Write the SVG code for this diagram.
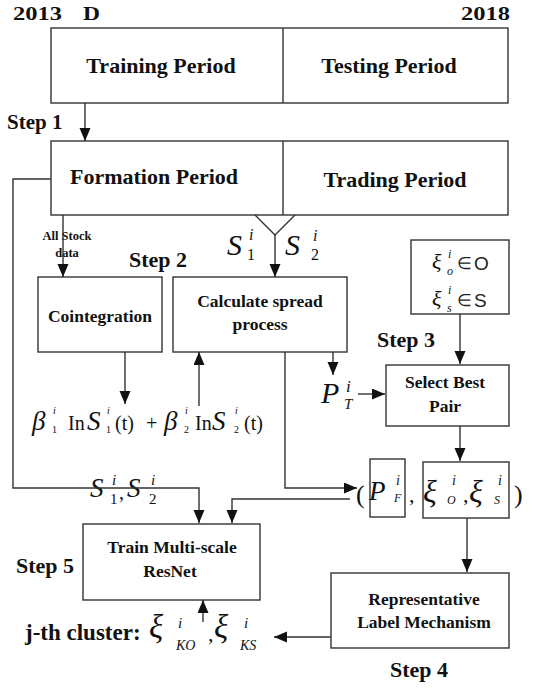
<svg xmlns="http://www.w3.org/2000/svg" width="534" height="689" viewBox="0 0 534 689">
  <style>
    .box { fill: #ffffff; stroke: #333333; stroke-width: 1.4; }
    .ln { fill: none; stroke: #333333; stroke-width: 1.4; }
    .arr { fill: none; stroke: #333333; stroke-width: 1.4; marker-end: url(#head); }
    .lbl { font-family: "Liberation Serif", "Times New Roman", serif; font-weight: bold; fill: #111111; }
    .big { font-size: 22px; }
    .year { font-size: 19px; }
    .node { font-size: 17.5px; text-anchor: middle; }
    .m { font-family: "Liberation Serif", "Times New Roman", serif; font-style: italic; fill: #111111; }
    .r { font-family: "Liberation Serif", "Times New Roman", serif; fill: #111111; }
    .sans { font-family: "Liberation Sans", Arial, sans-serif; fill: #222222; }
  </style>
  <defs>
    <marker id="head" markerUnits="userSpaceOnUse" markerWidth="14" markerHeight="12" refX="13" refY="5.5" orient="auto">
      <path d="M0,0 L13,5.5 L0,11 z" fill="#111111"/>
    </marker>
  </defs>

  <!-- timeline labels -->
  <g id="timeline">
    <text class="lbl year" x="13" y="20" textLength="49" lengthAdjust="spacingAndGlyphs">2013</text>
    <text class="lbl year" x="83" y="20" textLength="17" lengthAdjust="spacingAndGlyphs">D</text>
    <text class="lbl year" x="461" y="20" textLength="49" lengthAdjust="spacingAndGlyphs">2018</text>
  </g>

  <!-- whole period split -->
  <g id="period-split">
    <rect class="box" x="51" y="28" width="457" height="75"/>
    <line class="ln" x1="283" y1="28" x2="283" y2="103"/>
    <text class="lbl big" x="161" y="73" text-anchor="middle">Training Period</text>
    <text class="lbl big" x="389" y="73" text-anchor="middle">Testing Period</text>
  </g>

  <!-- formation / trading split -->
  <g id="formation-trading">
    <rect class="box" x="51" y="141" width="457" height="74"/>
    <line class="ln" x1="283" y1="141" x2="283" y2="215"/>
    <text class="lbl big" x="154" y="184" text-anchor="middle">Formation Period</text>
    <text class="lbl big" x="395" y="187" text-anchor="middle">Trading Period</text>
  </g>

  <!-- step labels -->
  <g id="steps">
    <text class="lbl" font-size="21" x="7" y="129">Step 1</text>
    <text class="lbl big" x="129" y="267">Step 2</text>
    <text class="lbl big" x="377" y="347">Step 3</text>
    <text class="lbl big" x="390" y="677">Step 4</text>
    <text class="lbl big" x="16" y="573">Step 5</text>
  </g>

  <g id="all-stock-label">
    <text class="lbl" font-size="12.5" x="67" y="240" text-anchor="middle">All Stock</text>
    <text class="lbl" font-size="12.5" x="67" y="257" text-anchor="middle">data</text>
  </g>

  <g id="cointegration">
    <rect class="box" x="38" y="277" width="124" height="75"/>
    <text class="lbl node" x="100" y="322">Cointegration</text>
  </g>

  <g id="spread">
    <rect class="box" x="173" y="277" width="174" height="75"/>
    <text class="lbl node" x="260" y="307">Calculate spread</text>
    <text class="lbl node" x="260" y="330">process</text>
  </g>

  <g id="threshold-sets">
    <rect class="box" x="411" y="240" width="98" height="74"/>
    <text class="m" font-size="22" x="432" y="269">ξ</text>
    <text class="m" font-size="12" x="448" y="258">i</text>
    <text class="m" font-size="12" x="447" y="275">o</text>
    <text class="sans" font-size="17" x="457" y="269">∈</text>
    <text class="sans" font-size="19" x="474" y="270">O</text>
    <text class="m" font-size="22" x="432" y="306">ξ</text>
    <text class="m" font-size="12" x="448" y="294">i</text>
    <text class="m" font-size="12" x="447" y="312">s</text>
    <text class="sans" font-size="17" x="457" y="306">∈</text>
    <text class="sans" font-size="19" x="474" y="307">S</text>
  </g>

  <g id="select-pair">
    <rect class="box" x="386" y="365" width="123" height="61"/>
    <text class="lbl node" x="445" y="388">Select Best</text>
    <text class="lbl node" x="445" y="412">Pair</text>
  </g>

  <g id="train-resnet">
    <rect class="box" x="83" y="524" width="177" height="76"/>
    <text class="lbl node" x="172" y="553">Train Multi-scale</text>
    <text class="lbl node" x="170" y="577">ResNet</text>
  </g>

  <g id="label-mechanism">
    <rect class="box" x="331" y="573" width="178" height="75"/>
    <text class="lbl node" x="424" y="605">Representative</text>
    <text class="lbl node" x="424" y="628">Label Mechanism</text>
  </g>

  <!-- price series pair under the split -->
  <g id="pair-series">
    <text class="m" font-size="30" x="227" y="255">S</text>
    <text class="m" font-size="16" x="249" y="240">i</text>
    <text class="r" font-size="16" x="247" y="260">1</text>
    <text class="m" font-size="30" x="285" y="255">S</text>
    <text class="m" font-size="16" x="313" y="241">i</text>
    <text class="r" font-size="16" x="311" y="260">2</text>
  </g>

  <!-- cointegration relation -->
  <g id="spread-formula">
    <text class="m" font-size="27" x="32" y="430">β</text>
    <text class="m" font-size="10" x="53" y="414">i</text>
    <text class="r" font-size="10" x="52" y="433">1</text>
    <text class="r" font-size="20" x="68" y="430">In</text>
    <text class="m" font-size="27" x="87" y="430">S</text>
    <text class="m" font-size="10" x="107" y="414">i</text>
    <text class="r" font-size="10" x="106" y="433">1</text>
    <text class="r" font-size="20" x="115" y="430">(t)</text>
    <text class="r" font-size="20" x="146" y="430">+</text>
    <text class="m" font-size="27" x="164" y="430">β</text>
    <text class="m" font-size="10" x="185" y="414">i</text>
    <text class="r" font-size="10" x="184" y="433">2</text>
    <text class="r" font-size="20" x="195" y="430">In</text>
    <text class="m" font-size="27" x="212" y="430">S</text>
    <text class="m" font-size="10" x="235" y="414">i</text>
    <text class="r" font-size="10" x="234" y="433">2</text>
    <text class="r" font-size="20" x="244" y="430">(t)</text>
  </g>

  <g id="trading-spread">
    <text class="m" font-size="30" x="321" y="403">P</text>
    <text class="m" font-size="17" x="346" y="392">i</text>
    <text class="m" font-size="15" x="344" y="409">T</text>
  </g>

  <g id="series-input">
    <text class="m" font-size="27" x="90" y="497">S</text>
    <text class="m" font-size="15" x="112" y="485">i</text>
    <text class="r" font-size="15" x="110" y="504">1</text>
    <text class="r" font-size="20" x="119" y="499">,</text>
    <text class="m" font-size="27" x="127" y="497">S</text>
    <text class="m" font-size="15" x="151" y="485">i</text>
    <text class="r" font-size="15" x="149" y="504">2</text>
  </g>

  <!-- selected pair tuple -->
  <g id="pair-tuple">
    <text class="r" font-size="26" x="356" y="503">(</text>
    <rect class="box" x="370" y="459" width="35" height="58"/>
    <text class="m" font-size="27" x="369" y="500">P</text>
    <text class="m" font-size="14" x="396" y="485">i</text>
    <text class="m" font-size="12" x="394" y="502">F</text>
    <text class="r" font-size="22" x="409" y="502">,</text>
    <rect class="box" x="423" y="462" width="86" height="56"/>
    <text class="m" font-size="32" x="423" y="502">ξ</text>
    <text class="m" font-size="14" x="452" y="485">i</text>
    <text class="m" font-size="12" x="447" y="504">O</text>
    <text class="r" font-size="22" x="463" y="502">,</text>
    <text class="m" font-size="32" x="469" y="502">ξ</text>
    <text class="m" font-size="14" x="498" y="485">i</text>
    <text class="m" font-size="12" x="494" y="504">S</text>
    <text class="r" font-size="26" x="514" y="503">)</text>
  </g>

  <g id="cluster-label">
    <text class="lbl" font-size="23" x="25" y="640">j-th cluster:</text>
    <text class="m" font-size="33" x="149" y="638">ξ</text>
    <text class="m" font-size="15" x="178" y="628">i</text>
    <text class="m" font-size="14" x="176" y="650">KO</text>
    <text class="r" font-size="22" x="208" y="641">,</text>
    <text class="m" font-size="33" x="214" y="638">ξ</text>
    <text class="m" font-size="15" x="244" y="628">i</text>
    <text class="m" font-size="14" x="240" y="650">KS</text>
  </g>

  <!-- connectors -->
  <g id="connectors">
    <path class="arr" d="M85,103 V141"/>
    <path class="arr" d="M63,215 V277"/>
    <path class="ln" d="M255,215 L275,235 L295,215"/>
    <path class="arr" d="M275,235 V277"/>
    <path class="arr" d="M125,352 V404"/>
    <path class="arr" d="M199,406 V352"/>
    <path class="arr" d="M333,352 V375"/>
    <path class="arr" d="M358,394 H385"/>
    <path class="arr" d="M460,314 V364"/>
    <path class="arr" d="M460,426 V461"/>
    <path class="arr" d="M285,352 V488 H357"/>
    <path class="arr" d="M51,179 H13 V488 H199 V523"/>
    <path class="arr" d="M350,499 H232 V523"/>
    <path class="arr" d="M467,518 V572"/>
    <path class="arr" d="M331,637 H274"/>
    <path class="arr" d="M203,622 V600"/>
  </g>
</svg>
